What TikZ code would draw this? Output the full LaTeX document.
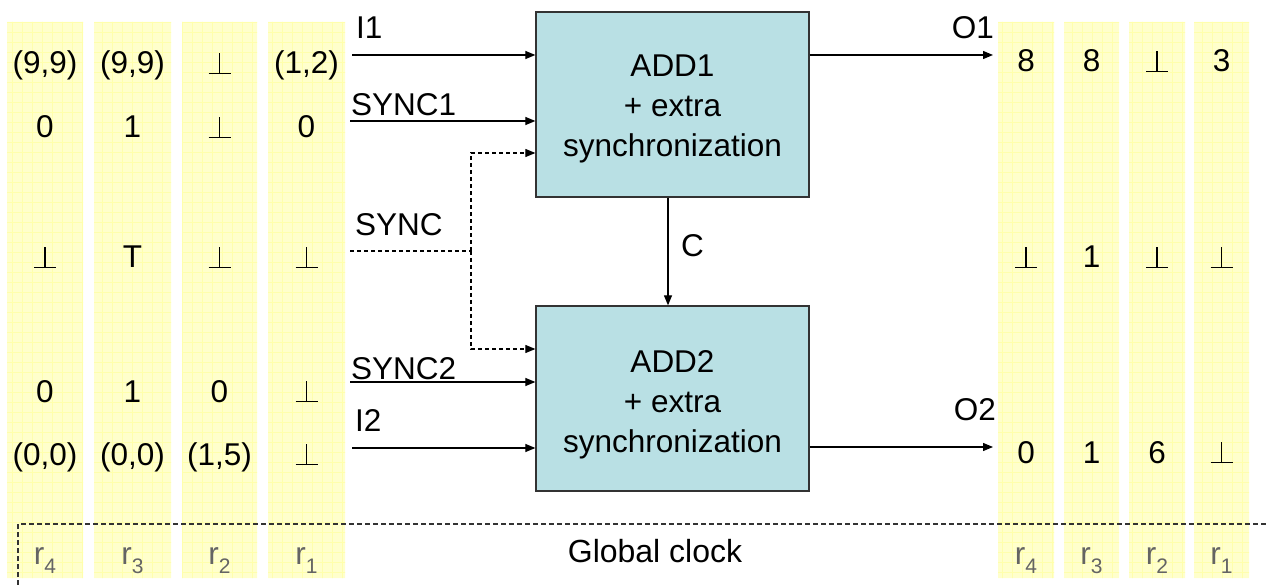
\documentclass[tikz,border=0pt]{standalone}
\usepackage{fontspec}
\setmainfont{Liberation Sans}
\usetikzlibrary{arrows.meta}
\definecolor{colbg}{RGB}{255,255,204}
\definecolor{gridc}{RGB}{255,255,172}
\definecolor{boxfill}{RGB}{185,224,228}
\definecolor{boxline}{RGB}{51,51,51}
\definecolor{regc}{RGB}{100,100,100}
% thin "bottom" symbol built from two rules
\newcommand{\botv}{\makebox[22pt][l]{\rule{22pt}{1.4pt}\hspace{-11.7pt}\rule{1.4pt}{21pt}}}
\newcommand{\regname}[1]{r\raisebox{-9pt}{\fontsize{21}{21}\selectfont #1}}
\begin{document}
\begin{tikzpicture}[x=1pt,y=-1pt,
  every node/.style={font=\fontsize{31.5}{37}\selectfont, inner sep=0pt},
  val/.style={anchor=base},
  reg/.style={anchor=base, text=regc},
  lbl/.style={anchor=base west},
  boxtext/.style={align=center, font=\fontsize{31.5}{40}\selectfont},
  addbox/.style={draw=boxline, line width=1.3pt, fill=boxfill,
    minimum width=273pt, minimum height=185pt},
  sig/.style={line width=1.2pt, -{Triangle[length=10pt,width=8pt]}},
  syncline/.style={line width=1.1pt, dash pattern=on 4pt off 3pt},
  clockdash/.style={line width=1.2pt, draw=boxline, dash pattern=on 5pt off 3pt},
]
\useasboundingbox (0,0) rectangle (1269,585);

% register columns with a faint grid
\fill[colbg] (7,22) rectangle (83,578) (94,22) rectangle (171,578)
  (182,22) rectangle (257,578) (268,22) rectangle (345,578)
  (998,22) rectangle (1054,578) (1064,22) rectangle (1119,578)
  (1129,22) rectangle (1185,578) (1194,22) rectangle (1249,578);
\begin{scope}
  \clip (7,22) rectangle (83,578) (94,22) rectangle (171,578)
    (182,22) rectangle (257,578) (268,22) rectangle (345,578)
    (998,22) rectangle (1054,578) (1064,22) rectangle (1119,578)
    (1129,22) rectangle (1185,578) (1194,22) rectangle (1249,578);
  \foreach \gx in {2,12,...,1262} \draw[gridc, line width=0.4pt] (\gx,0) -- (\gx,585);
  \foreach \gy in {2,12,...,582} \draw[gridc, line width=0.4pt] (0,\gy) -- (1269,\gy);
\end{scope}

% adder blocks
\node[addbox] (add1) at (672.5,104.5) {};
\node[boxtext] (add1t) at (672.5,108.6) {ADD1\\+ extra\\synchronization};
\node[addbox] (add2) at (672.5,398.5) {};
\node[boxtext] (add2t) at (672.5,404.6) {ADD2\\+ extra\\synchronization};

% inputs
\coordinate (i1s) at (352,55);
\coordinate (s1s) at (350,121);
\coordinate (s2s) at (350,382);
\coordinate (i2s) at (352,448);
\draw[sig] (i1s) -- (i1s -| add1.west);
\draw[sig] (s1s) -- (s1s -| add1.west);
\draw[sig] (s2s) -- (s2s -| add2.west);
\draw[sig] (i2s) -- (i2s -| add2.west);

% shared SYNC, split to both blocks
\coordinate (syncs) at (350,251);
\coordinate (syncj) at (471,251);
\coordinate (sj1) at (471,153);
\coordinate (sj2) at (471,349);
\draw[syncline] (syncs) -- (syncj);
\draw[syncline, -{Triangle[length=10pt,width=8pt]}] (syncj) -- (sj1) -- (sj1 -| add1.west);
\draw[syncline, -{Triangle[length=10pt,width=8pt]}] (syncj) -- (sj2) -- (sj2 -| add2.west);

% carry
\coordinate (cx) at (668,0);
\draw[sig] (add1.south -| cx) -- (add2.north -| cx);

% outputs
\coordinate (o1e) at (993,55);
\coordinate (o2e) at (993,447);
\draw[sig] (add1.east |- o1e) -- (o1e);
\draw[sig] (add2.east |- o2e) -- (o2e);

% signal labels
\node[lbl] (lI1) at (356,39) {I1};
\node[lbl] (lS1) at (351,116) {SYNC1};
\node[lbl] (lS) at (355,236) {SYNC};
\node[lbl] (lS2) at (351,379) {SYNC2};
\node[lbl] (lI2) at (355,431) {I2};
\node[lbl] (lC) at (681,257) {C};
\node[anchor=base east] (lO1) at (994,39) {O1};
\node[anchor=base east] (lO2) at (996,420) {O2};

% input register contents
\foreach \y/\a/\b/\c/\d [count=\r] in {
  74/{(9,9)}/{(9,9)}/\botv/{(1,2)},
  138/0/1/\botv/0,
  268/\botv/T/\botv/\botv,
  402/0/1/0/\botv,
  465/{(0,0)}/{(0,0)}/{(1,5)}/\botv} {
  \node[val] (in\r a) at (45,\y) {\a};
  \node[val] (in\r b) at (132.5,\y) {\b};
  \node[val] (in\r c) at (219.5,\y) {\c};
  \node[val] (in\r d) at (306.5,\y) {\d};
}

% output register contents
\foreach \y/\a/\b/\c/\d [count=\r] in {
  72/8/8/\botv/3,
  268/\botv/1/\botv/\botv,
  463/0/1/6/\botv} {
  \node[val] (out\r a) at (1026,\y) {\a};
  \node[val] (out\r b) at (1091.5,\y) {\b};
  \node[val] (out\r c) at (1157,\y) {\c};
  \node[val] (out\r d) at (1221.5,\y) {\d};
}

% global clock
\coordinate (ck0) at (18,585);
\coordinate (ck1) at (18,524);
\coordinate (ck2) at (1269,524);
\draw[clockdash] (ck0) -- (ck1) -- (ck2);
\node[anchor=base, font=\fontsize{32}{37}\selectfont] (clk) at (655,562) {Global clock};

% register names
\node[reg] (rl4) at (45,564) {\regname{4}};
\node[reg] (rl3) at (132.5,564) {\regname{3}};
\node[reg] (rl2) at (219.5,564) {\regname{2}};
\node[reg] (rl1) at (306.5,564) {\regname{1}};
\node[reg] (rr4) at (1026,564) {\regname{4}};
\node[reg] (rr3) at (1091.5,564) {\regname{3}};
\node[reg] (rr2) at (1157,564) {\regname{2}};
\node[reg] (rr1) at (1221.5,564) {\regname{1}};
\end{tikzpicture}
\end{document}
